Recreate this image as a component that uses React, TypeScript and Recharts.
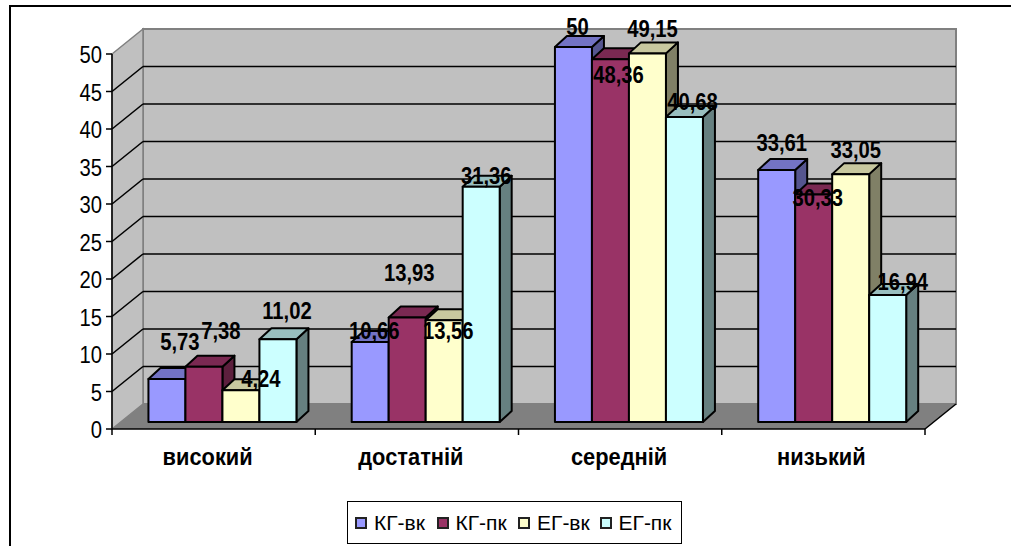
import React from "react";
import { BarChart, Bar, XAxis, YAxis, CartesianGrid, Legend, LabelList } from "recharts";

// values
const categories = ["високий", "достатній", "середній", "низький"];
const kgVk = [5.73, 10.66, 50, 33.61];
const kgPk = [7.38, 13.93, 48.36, 30.33];
const egVk = [4.24, 13.56, 49.15, 33.05];
const egPk = [11.02, 31.36, 40.68, 16.94];
const yTicks = [0, 5, 10, 15, 20, 25, 30, 35, 40, 45, 50];

const data = categories.map((name, i) => ({
  name,
  kgVk: kgVk[i],
  kgPk: kgPk[i],
  egVk: egVk[i],
  egPk: egPk[i],
}));

const WIDTH = 1011;
const HEIGHT = 546;
const FONT = '"Liberation Sans", Arial, sans-serif';

// front plane of the fake 3D box
const LEFT = 112;
const RIGHT = 925;
const TOP = 54;
const BOTTOM = 429;
const BAND = (RIGHT - LEFT) / categories.length;

// how far the back wall sits from the front plane
const WALL_DX = 31;
const WALL_DY = -25;
// bars stand in the middle of the floor
const BAR_DX = 9;
const BAR_DY = -7;
const BAR_DEPTH_X = 12;
const BAR_DEPTH_Y = -11;
const LABEL_DX = 8;

const series = [
  { key: "kgVk", name: "КГ-вк", front: "#9999FF", top: "#7373C4", side: "#55558F", nudgeX: [14, 5, 5, 6], lift: [37, 11, 20, 27] },
  { key: "kgPk", name: "КГ-пк", front: "#993366", top: "#7A2952", side: "#5C1F3D", nudgeX: [18, 3, 9, 5], lift: [36, 45, -16, -3] },
  { key: "egVk", name: "ЕГ-вк", front: "#FFFFCC", top: "#C8C89F", side: "#808066", nudgeX: [21, 5, 6, 6], lift: [11, -11, 24, 24] },
  { key: "egPk", name: "ЕГ-пк", front: "#CCFFFF", top: "#99BFBF", side: "#668080", nudgeX: [10, 6, 9, 16], lift: [28, 11, 15, 13] },
];

const categoryNudge = [-6, -6, -1, -2];

// the original text is tall and a bit condensed
function TallText({ x, y, sx, size, bold, anchor, children }: any) {
  return (
    <text
      transform={`translate(${x},${y}) scale(${sx},1)`}
      textAnchor={anchor}
      fontFamily={FONT}
      fontSize={size}
      fontWeight={bold ? "bold" : "normal"}
      fill="#000"
    >
      {children}
    </text>
  );
}

function Box({ x, y, width, height, front, top, side }: any) {
  const l = x + BAR_DX;
  const r = l + width;
  const t = y + BAR_DY;
  const b = t + height;
  const dx = BAR_DEPTH_X;
  const dy = BAR_DEPTH_Y;
  return (
    <g stroke="#000" strokeWidth={2} strokeLinejoin="round">
      <polygon points={`${r},${t} ${r + dx},${t + dy} ${r + dx},${b + dy} ${r},${b}`} fill={side} />
      <polygon points={`${l},${t} ${l + dx},${t + dy} ${r + dx},${t + dy} ${r},${t}`} fill={top} />
      <rect x={l} y={t} width={width} height={height} fill={front} />
    </g>
  );
}

function Walls() {
  const wl = LEFT + WALL_DX;
  const wr = RIGHT + WALL_DX;
  const wt = TOP + WALL_DY;
  const wb = BOTTOM + WALL_DY;
  return (
    <svg width={WIDTH} height={HEIGHT} style={{ position: "absolute", left: 0, top: 0 }}>
      <rect x={wl} y={wt} width={wr - wl} height={wb - wt} fill="#C0C0C0" stroke="#808080" strokeWidth={2} />
      <polygon points={`${LEFT},${TOP} ${wl},${wt} ${wl},${wb} ${LEFT},${BOTTOM}`} fill="#C0C0C0" stroke="#808080" strokeWidth={1.5} />
      <polygon points={`${LEFT},${BOTTOM} ${wl},${wb} ${wr},${wb} ${RIGHT},${BOTTOM}`} fill="#808080" />
      <line x1={RIGHT} y1={BOTTOM} x2={wr} y2={wb} stroke="#000" strokeWidth={1.5} />
    </svg>
  );
}

function GridLine({ x1, x2, y1 }: any) {
  const atEdge = Math.abs(y1 - TOP) < 1 || Math.abs(y1 - BOTTOM) < 1;
  if (atEdge) return null;
  return (
    <g stroke="#000" strokeWidth={1.6}>
      <line x1={x1} y1={y1} x2={x1 + WALL_DX} y2={y1 + WALL_DY} />
      <line x1={x1 + WALL_DX} y1={y1 + WALL_DY} x2={x2 + WALL_DX} y2={y1 + WALL_DY} />
    </g>
  );
}

function CategoryTick({ x, payload, index }: any) {
  return (
    <g>
      <line x1={x - BAND / 2} y1={BOTTOM} x2={x - BAND / 2} y2={BOTTOM + 6} stroke="#000" strokeWidth={1.5} />
      {index === categories.length - 1 && (
        <line x1={x + BAND / 2} y1={BOTTOM} x2={x + BAND / 2} y2={BOTTOM + 6} stroke="#000" strokeWidth={1.5} />
      )}
      <TallText x={x + categoryNudge[index]} y={BOTTOM + 36} sx={0.95} size={23} bold anchor="middle">
        {payload.value}
      </TallText>
    </g>
  );
}

function ValueTick({ y, payload }: any) {
  return (
    <TallText x={LEFT - 10} y={y + 9} sx={0.88} size={23} anchor="end">
      {payload.value}
    </TallText>
  );
}

function ValueLabel({ x, y, width, value, index, s }: any) {
  return (
    <TallText
      x={x + width / 2 + LABEL_DX + s.nudgeX[index]}
      y={y + BAR_DY - s.lift[index] + 8}
      sx={0.88}
      size={23}
      bold
      anchor="middle"
    >
      {String(value).replace(".", ",")}
    </TallText>
  );
}

function LegendBox({ payload }: any) {
  return (
    <div
      style={{
        position: "absolute",
        left: 347,
        top: 0,
        width: 335,
        height: 43,
        boxSizing: "border-box",
        border: "1.5px solid #000",
        background: "#fff",
        display: "flex",
        alignItems: "center",
        paddingLeft: 7,
        fontFamily: FONT,
        fontSize: 21,
        color: "#000",
      }}
    >
      {payload.map((item: any) => (
        <div key={item.value} style={{ width: 81.5, display: "flex", alignItems: "center", flex: "none" }}>
          <span
            style={{
              width: 12,
              height: 12,
              boxSizing: "border-box",
              border: "2px solid #222",
              background: item.color,
              marginRight: 7,
            }}
          />
          {item.value}
        </div>
      ))}
    </div>
  );
}

export default function App() {
  return (
    <div style={{ position: "absolute", left: 0, top: 0, width: WIDTH, height: HEIGHT, background: "#fff", overflow: "hidden" }}>
      <div style={{ position: "absolute", left: 9, top: 5, width: WIDTH, height: 2, background: "#000" }} />
      <div style={{ position: "absolute", left: 9, top: 5, width: 2, height: HEIGHT, background: "#000" }} />
      <Walls />
      <div style={{ position: "absolute", left: 0, top: 0 }}>
        <BarChart
          width={WIDTH}
          height={HEIGHT}
          data={data}
          margin={{ top: TOP, right: WIDTH - RIGHT, bottom: 0, left: 0 }}
          barCategoryGap="13.5%"
          barGap={0}
        >
          <CartesianGrid horizontal={(p: any) => <GridLine key={p.key} {...p} />} vertical={false} />
          <XAxis
            dataKey="name"
            height={HEIGHT - BOTTOM - 45}
            interval={0}
            tickLine={false}
            tick={<CategoryTick />}
            axisLine={{ stroke: "#000", strokeWidth: 1.5 }}
          />
          <YAxis
            width={LEFT}
            domain={[0, 50]}
            ticks={yTicks}
            interval={0}
            tickSize={6}
            tickLine={{ stroke: "#000", strokeWidth: 1.5 }}
            axisLine={{ stroke: "#000", strokeWidth: 1.5 }}
            tick={<ValueTick />}
          />
          <Legend content={<LegendBox />} height={45} verticalAlign="bottom" itemSorter={null} />
          {series.map((s) => (
            <Bar
              key={s.key}
              dataKey={s.key}
              name={s.name}
              fill={s.front}
              isAnimationActive={false}
              shape={(p: any) => <Box {...p} front={s.front} top={s.top} side={s.side} />}
            >
              <LabelList dataKey={s.key} content={(p: any) => <ValueLabel {...p} s={s} />} />
            </Bar>
          ))}
        </BarChart>
      </div>
    </div>
  );
}
